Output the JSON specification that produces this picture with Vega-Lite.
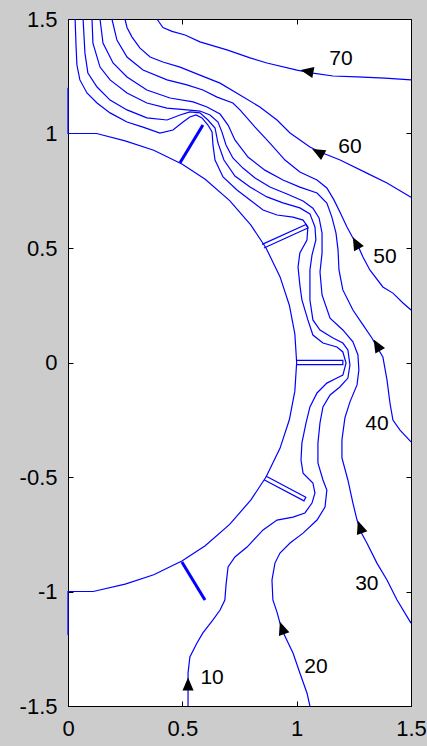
{
  "$schema": "https://vega.github.io/schema/vega-lite/v6.json",
  "width": 343,
  "height": 687,
  "autosize": {"type": "none"},
  "padding": {"left": 68, "top": 19, "right": 16, "bottom": 40},
  "background": "#cccccc",
  "config": {
    "view": {"fill": "white", "stroke": "black", "strokeWidth": 1},
    "axis": {
      "grid": false,
      "domain": false,
      "ticks": true,
      "tickColor": "black",
      "tickWidth": 1,
      "tickSize": 5,
      "offset": -5,
      "labelFont": "Liberation Sans",
      "labelFontSize": 22,
      "labelColor": "black",
      "labelFlush": false,
      "labelOverlap": false
    }
  },
  "datasets": {
    "lines": [
      {"k": "c70", "i": 0, "x": 0.389, "y": 1.5}, {"k": "c70", "i": 1, "x": 0.415, "y": 1.463}, {"k": "c70", "i": 2, "x": 0.455, "y": 1.446}, {"k": "c70", "i": 3, "x": 0.512, "y": 1.43}, {"k": "c70", "i": 4, "x": 0.577, "y": 1.4}, {"k": "c70", "i": 5, "x": 0.695, "y": 1.365}, {"k": "c70", "i": 6, "x": 0.796, "y": 1.33}, {"k": "c70", "i": 7, "x": 0.87, "y": 1.308}, {"k": "c70", "i": 8, "x": 1.001, "y": 1.277}, {"k": "c70", "i": 9, "x": 1.071, "y": 1.264}, {"k": "c70", "i": 10, "x": 1.159, "y": 1.251}, {"k": "c70", "i": 11, "x": 1.264, "y": 1.247}, {"k": "c70", "i": 12, "x": 1.386, "y": 1.242}, {"k": "c70", "i": 13, "x": 1.5, "y": 1.234},

      {"k": "c60", "i": 0, "x": 0.249, "y": 1.5}, {"k": "c60", "i": 1, "x": 0.258, "y": 1.463}, {"k": "c60", "i": 2, "x": 0.28, "y": 1.421}, {"k": "c60", "i": 3, "x": 0.315, "y": 1.373}, {"k": "c60", "i": 4, "x": 0.359, "y": 1.334}, {"k": "c60", "i": 5, "x": 0.415, "y": 1.312}, {"k": "c60", "i": 6, "x": 0.49, "y": 1.29}, {"k": "c60", "i": 7, "x": 0.577, "y": 1.255}, {"k": "c60", "i": 8, "x": 0.665, "y": 1.22}, {"k": "c60", "i": 9, "x": 0.752, "y": 1.168}, {"k": "c60", "i": 10, "x": 0.839, "y": 1.116}, {"k": "c60", "i": 11, "x": 0.914, "y": 1.059}, {"k": "c60", "i": 12, "x": 0.971, "y": 1.002}, {"k": "c60", "i": 13, "x": 1.058, "y": 0.941}, {"k": "c60", "i": 14, "x": 1.102, "y": 0.919}, {"k": "c60", "i": 15, "x": 1.19, "y": 0.884}, {"k": "c60", "i": 16, "x": 1.307, "y": 0.827}, {"k": "c60", "i": 17, "x": 1.395, "y": 0.784}, {"k": "c60", "i": 18, "x": 1.5, "y": 0.722},

      {"k": "c50", "i": 0, "x": 0.192, "y": 1.5}, {"k": "c50", "i": 1, "x": 0.214, "y": 1.408}, {"k": "c50", "i": 2, "x": 0.258, "y": 1.334}, {"k": "c50", "i": 3, "x": 0.328, "y": 1.277}, {"k": "c50", "i": 4, "x": 0.433, "y": 1.234}, {"k": "c50", "i": 5, "x": 0.52, "y": 1.212}, {"k": "c50", "i": 6, "x": 0.59, "y": 1.19}, {"k": "c50", "i": 7, "x": 0.652, "y": 1.159}, {"k": "c50", "i": 8, "x": 0.721, "y": 1.133}, {"k": "c50", "i": 9, "x": 0.752, "y": 1.103}, {"k": "c50", "i": 10, "x": 0.818, "y": 1.028}, {"k": "c50", "i": 11, "x": 0.883, "y": 0.958}, {"k": "c50", "i": 12, "x": 0.949, "y": 0.884}, {"k": "c50", "i": 13, "x": 1.014, "y": 0.832}, {"k": "c50", "i": 14, "x": 1.089, "y": 0.797}, {"k": "c50", "i": 15, "x": 1.132, "y": 0.762}, {"k": "c50", "i": 16, "x": 1.163, "y": 0.71}, {"k": "c50", "i": 17, "x": 1.189, "y": 0.657}, {"k": "c50", "i": 18, "x": 1.22, "y": 0.592}, {"k": "c50", "i": 19, "x": 1.246, "y": 0.544}, {"k": "c50", "i": 20, "x": 1.264, "y": 0.518}, {"k": "c50", "i": 21, "x": 1.29, "y": 0.461}, {"k": "c50", "i": 22, "x": 1.32, "y": 0.404}, {"k": "c50", "i": 23, "x": 1.377, "y": 0.33}, {"k": "c50", "i": 24, "x": 1.421, "y": 0.303}, {"k": "c50", "i": 25, "x": 1.465, "y": 0.26}, {"k": "c50", "i": 26, "x": 1.5, "y": 0.229},

      {"k": "c40", "i": 0, "x": 0.14, "y": 1.5}, {"k": "c40", "i": 1, "x": 0.153, "y": 1.395}, {"k": "c40", "i": 2, "x": 0.197, "y": 1.308}, {"k": "c40", "i": 3, "x": 0.258, "y": 1.247}, {"k": "c40", "i": 4, "x": 0.345, "y": 1.19}, {"k": "c40", "i": 5, "x": 0.446, "y": 1.155}, {"k": "c40", "i": 6, "x": 0.547, "y": 1.138}, {"k": "c40", "i": 7, "x": 0.608, "y": 1.116}, {"k": "c40", "i": 8, "x": 0.665, "y": 1.085}, {"k": "c40", "i": 9, "x": 0.7, "y": 1.037}, {"k": "c40", "i": 10, "x": 0.73, "y": 0.972}, {"k": "c40", "i": 11, "x": 0.787, "y": 0.897}, {"k": "c40", "i": 12, "x": 0.861, "y": 0.84}, {"k": "c40", "i": 13, "x": 0.94, "y": 0.797}, {"k": "c40", "i": 14, "x": 1.014, "y": 0.766}, {"k": "c40", "i": 15, "x": 1.089, "y": 0.74}, {"k": "c40", "i": 16, "x": 1.132, "y": 0.696}, {"k": "c40", "i": 17, "x": 1.154, "y": 0.635}, {"k": "c40", "i": 18, "x": 1.172, "y": 0.565}, {"k": "c40", "i": 19, "x": 1.181, "y": 0.491}, {"k": "c40", "i": 20, "x": 1.185, "y": 0.404}, {"k": "c40", "i": 21, "x": 1.202, "y": 0.317}, {"k": "c40", "i": 22, "x": 1.246, "y": 0.229}, {"k": "c40", "i": 23, "x": 1.29, "y": 0.164}, {"k": "c40", "i": 24, "x": 1.329, "y": 0.107}, {"k": "c40", "i": 25, "x": 1.351, "y": 0.068}, {"k": "c40", "i": 26, "x": 1.377, "y": 0.024}, {"k": "c40", "i": 27, "x": 1.395, "y": -0.076}, {"k": "c40", "i": 28, "x": 1.408, "y": -0.177}, {"k": "c40", "i": 29, "x": 1.421, "y": -0.251}, {"k": "c40", "i": 30, "x": 1.452, "y": -0.295}, {"k": "c40", "i": 31, "x": 1.5, "y": -0.347},

      {"k": "c30", "i": 0, "x": 0.105, "y": 1.5}, {"k": "c30", "i": 1, "x": 0.109, "y": 1.395}, {"k": "c30", "i": 2, "x": 0.14, "y": 1.29}, {"k": "c30", "i": 3, "x": 0.184, "y": 1.234}, {"k": "c30", "i": 4, "x": 0.258, "y": 1.177}, {"k": "c30", "i": 5, "x": 0.345, "y": 1.133}, {"k": "c30", "i": 6, "x": 0.433, "y": 1.111}, {"k": "c30", "i": 7, "x": 0.52, "y": 1.103}, {"k": "c30", "i": 8, "x": 0.577, "y": 1.098}, {"k": "c30", "i": 9, "x": 0.621, "y": 1.081}, {"k": "c30", "i": 10, "x": 0.656, "y": 1.05}, {"k": "c30", "i": 11, "x": 0.673, "y": 1.007}, {"k": "c30", "i": 12, "x": 0.691, "y": 0.95}, {"k": "c30", "i": 13, "x": 0.721, "y": 0.893}, {"k": "c30", "i": 14, "x": 0.765, "y": 0.849}, {"k": "c30", "i": 15, "x": 0.818, "y": 0.806}, {"k": "c30", "i": 16, "x": 0.883, "y": 0.766}, {"k": "c30", "i": 17, "x": 0.958, "y": 0.736}, {"k": "c30", "i": 18, "x": 1.028, "y": 0.705}, {"k": "c30", "i": 19, "x": 1.071, "y": 0.674}, {"k": "c30", "i": 20, "x": 1.098, "y": 0.631}, {"k": "c30", "i": 21, "x": 1.111, "y": 0.565}, {"k": "c30", "i": 22, "x": 1.111, "y": 0.478}, {"k": "c30", "i": 23, "x": 1.102, "y": 0.395}, {"k": "c30", "i": 24, "x": 1.111, "y": 0.295}, {"k": "c30", "i": 25, "x": 1.146, "y": 0.194}, {"k": "c30", "i": 26, "x": 1.202, "y": 0.142}, {"k": "c30", "i": 27, "x": 1.246, "y": 0.09}, {"k": "c30", "i": 28, "x": 1.268, "y": 0.033}, {"k": "c30", "i": 29, "x": 1.272, "y": -0.033}, {"k": "c30", "i": 30, "x": 1.264, "y": -0.098}, {"k": "c30", "i": 31, "x": 1.233, "y": -0.172}, {"k": "c30", "i": 32, "x": 1.211, "y": -0.242}, {"k": "c30", "i": 33, "x": 1.198, "y": -0.338}, {"k": "c30", "i": 34, "x": 1.198, "y": -0.417}, {"k": "c30", "i": 35, "x": 1.224, "y": -0.513}, {"k": "c30", "i": 36, "x": 1.246, "y": -0.614}, {"k": "c30", "i": 37, "x": 1.264, "y": -0.688}, {"k": "c30", "i": 38, "x": 1.281, "y": -0.74}, {"k": "c30", "i": 39, "x": 1.307, "y": -0.788}, {"k": "c30", "i": 40, "x": 1.351, "y": -0.876}, {"k": "c30", "i": 41, "x": 1.395, "y": -0.95}, {"k": "c30", "i": 42, "x": 1.439, "y": -1.037}, {"k": "c30", "i": 43, "x": 1.5, "y": -1.138},

      {"k": "c20", "i": 0, "x": 0.066, "y": 1.5}, {"k": "c20", "i": 1, "x": 0.074, "y": 1.352}, {"k": "c20", "i": 2, "x": 0.087, "y": 1.264}, {"k": "c20", "i": 3, "x": 0.127, "y": 1.203}, {"k": "c20", "i": 4, "x": 0.184, "y": 1.146}, {"k": "c20", "i": 5, "x": 0.258, "y": 1.103}, {"k": "c20", "i": 6, "x": 0.345, "y": 1.068}, {"k": "c20", "i": 7, "x": 0.433, "y": 1.059}, {"k": "c20", "i": 8, "x": 0.49, "y": 1.081}, {"k": "c20", "i": 9, "x": 0.533, "y": 1.094}, {"k": "c20", "i": 10, "x": 0.577, "y": 1.09}, {"k": "c20", "i": 11, "x": 0.612, "y": 1.059}, {"k": "c20", "i": 12, "x": 0.643, "y": 1.024}, {"k": "c20", "i": 13, "x": 0.656, "y": 0.958}, {"k": "c20", "i": 14, "x": 0.682, "y": 0.884}, {"k": "c20", "i": 15, "x": 0.73, "y": 0.814}, {"k": "c20", "i": 16, "x": 0.796, "y": 0.766}, {"k": "c20", "i": 17, "x": 0.87, "y": 0.723}, {"k": "c20", "i": 18, "x": 0.94, "y": 0.697}, {"k": "c20", "i": 19, "x": 1.014, "y": 0.675}, {"k": "c20", "i": 20, "x": 1.058, "y": 0.649}, {"k": "c20", "i": 21, "x": 1.08, "y": 0.592}, {"k": "c20", "i": 22, "x": 1.084, "y": 0.535}, {"k": "c20", "i": 23, "x": 1.067, "y": 0.469}, {"k": "c20", "i": 24, "x": 1.058, "y": 0.404}, {"k": "c20", "i": 25, "x": 1.058, "y": 0.338}, {"k": "c20", "i": 26, "x": 1.058, "y": 0.273}, {"k": "c20", "i": 27, "x": 1.071, "y": 0.186}, {"k": "c20", "i": 28, "x": 1.102, "y": 0.142}, {"k": "c20", "i": 29, "x": 1.159, "y": 0.107}, {"k": "c20", "i": 30, "x": 1.202, "y": 0.085}, {"k": "c20", "i": 31, "x": 1.224, "y": 0.055}, {"k": "c20", "i": 32, "x": 1.233, "y": -0.011}, {"k": "c20", "i": 33, "x": 1.224, "y": -0.068}, {"k": "c20", "i": 34, "x": 1.189, "y": -0.107}, {"k": "c20", "i": 35, "x": 1.146, "y": -0.142}, {"k": "c20", "i": 36, "x": 1.115, "y": -0.194}, {"k": "c20", "i": 37, "x": 1.102, "y": -0.264}, {"k": "c20", "i": 38, "x": 1.093, "y": -0.351}, {"k": "c20", "i": 39, "x": 1.093, "y": -0.439}, {"k": "c20", "i": 40, "x": 1.115, "y": -0.513}, {"k": "c20", "i": 41, "x": 1.132, "y": -0.557}, {"k": "c20", "i": 42, "x": 1.124, "y": -0.631}, {"k": "c20", "i": 43, "x": 1.089, "y": -0.688}, {"k": "c20", "i": 44, "x": 1.028, "y": -0.745}, {"k": "c20", "i": 45, "x": 0.971, "y": -0.788}, {"k": "c20", "i": 46, "x": 0.927, "y": -0.832}, {"k": "c20", "i": 47, "x": 0.905, "y": -0.876}, {"k": "c20", "i": 48, "x": 0.892, "y": -0.95}, {"k": "c20", "i": 49, "x": 0.896, "y": -1.037}, {"k": "c20", "i": 50, "x": 0.914, "y": -1.09}, {"k": "c20", "i": 51, "x": 0.927, "y": -1.138}, {"k": "c20", "i": 52, "x": 0.94, "y": -1.177}, {"k": "c20", "i": 53, "x": 0.984, "y": -1.269}, {"k": "c20", "i": 54, "x": 1.014, "y": -1.356}, {"k": "c20", "i": 55, "x": 1.045, "y": -1.443}, {"k": "c20", "i": 56, "x": 1.058, "y": -1.5},

      {"k": "c10", "i": 0, "x": 0.031, "y": 1.5}, {"k": "c10", "i": 1, "x": 0.035, "y": 1.387}, {"k": "c10", "i": 2, "x": 0.039, "y": 1.299}, {"k": "c10", "i": 3, "x": 0.052, "y": 1.234}, {"k": "c10", "i": 4, "x": 0.083, "y": 1.177}, {"k": "c10", "i": 5, "x": 0.127, "y": 1.133}, {"k": "c10", "i": 6, "x": 0.184, "y": 1.09}, {"k": "c10", "i": 7, "x": 0.258, "y": 1.05}, {"k": "c10", "i": 8, "x": 0.328, "y": 1.028}, {"k": "c10", "i": 9, "x": 0.402, "y": 1.002}, {"k": "c10", "i": 10, "x": 0.459, "y": 1.015}, {"k": "c10", "i": 11, "x": 0.503, "y": 1.05}, {"k": "c10", "i": 12, "x": 0.533, "y": 1.072}, {"k": "c10", "i": 13, "x": 0.56, "y": 1.081}, {"k": "c10", "i": 14, "x": 0.586, "y": 1.068}, {"k": "c10", "i": 15, "x": 0.612, "y": 1.037}, {"k": "c10", "i": 16, "x": 0.63, "y": 1.007}, {"k": "c10", "i": 17, "x": 0.634, "y": 0.95}, {"k": "c10", "i": 18, "x": 0.643, "y": 0.884}, {"k": "c10", "i": 19, "x": 0.678, "y": 0.81}, {"k": "c10", "i": 20, "x": 0.739, "y": 0.753}, {"k": "c10", "i": 21, "x": 0.796, "y": 0.71}, {"k": "c10", "i": 22, "x": 0.853, "y": 0.666}, {"k": "c10", "i": 23, "x": 0.914, "y": 0.644}, {"k": "c10", "i": 24, "x": 0.984, "y": 0.635}, {"k": "c10", "i": 25, "x": 1.028, "y": 0.622}, {"k": "c10", "i": 26, "x": 1.049, "y": 0.592}, {"k": "c10", "i": 27, "x": 1.045, "y": 0.535}, {"k": "c10", "i": 28, "x": 1.014, "y": 0.478}, {"k": "c10", "i": 29, "x": 1.006, "y": 0.417}, {"k": "c10", "i": 30, "x": 1.014, "y": 0.338}, {"k": "c10", "i": 31, "x": 1.023, "y": 0.273}, {"k": "c10", "i": 32, "x": 1.049, "y": 0.186}, {"k": "c10", "i": 33, "x": 1.071, "y": 0.12}, {"k": "c10", "i": 34, "x": 1.115, "y": 0.085}, {"k": "c10", "i": 35, "x": 1.176, "y": 0.068}, {"k": "c10", "i": 36, "x": 1.202, "y": 0.046}, {"k": "c10", "i": 37, "x": 1.216, "y": -0.002}, {"k": "c10", "i": 38, "x": 1.202, "y": -0.055}, {"k": "c10", "i": 39, "x": 1.176, "y": -0.068}, {"k": "c10", "i": 40, "x": 1.132, "y": -0.09}, {"k": "c10", "i": 41, "x": 1.089, "y": -0.133}, {"k": "c10", "i": 42, "x": 1.058, "y": -0.194}, {"k": "c10", "i": 43, "x": 1.041, "y": -0.264}, {"k": "c10", "i": 44, "x": 1.023, "y": -0.351}, {"k": "c10", "i": 45, "x": 1.019, "y": -0.426}, {"k": "c10", "i": 46, "x": 1.028, "y": -0.483}, {"k": "c10", "i": 47, "x": 1.071, "y": -0.526}, {"k": "c10", "i": 48, "x": 1.08, "y": -0.57}, {"k": "c10", "i": 49, "x": 1.067, "y": -0.614}, {"k": "c10", "i": 50, "x": 1.036, "y": -0.657}, {"k": "c10", "i": 51, "x": 0.984, "y": -0.675}, {"k": "c10", "i": 52, "x": 0.914, "y": -0.688}, {"k": "c10", "i": 53, "x": 0.853, "y": -0.731}, {"k": "c10", "i": 54, "x": 0.783, "y": -0.806}, {"k": "c10", "i": 55, "x": 0.73, "y": -0.849}, {"k": "c10", "i": 56, "x": 0.7, "y": -0.893}, {"k": "c10", "i": 57, "x": 0.691, "y": -0.972}, {"k": "c10", "i": 58, "x": 0.686, "y": -1.037}, {"k": "c10", "i": 59, "x": 0.665, "y": -1.081}, {"k": "c10", "i": 60, "x": 0.634, "y": -1.124}, {"k": "c10", "i": 61, "x": 0.59, "y": -1.181}, {"k": "c10", "i": 62, "x": 0.564, "y": -1.225}, {"k": "c10", "i": 63, "x": 0.533, "y": -1.286}, {"k": "c10", "i": 64, "x": 0.525, "y": -1.356}, {"k": "c10", "i": 65, "x": 0.525, "y": -1.5},

      {"k": "wall", "i": 0, "x": 0, "y": 1.2}, {"k": "wall", "i": 1, "x": 0, "y": 1.0}, {"k": "wall", "i": 2, "x": 0.125, "y": 1.0}, {"k": "wall", "i": 3, "x": 0.25, "y": 0.968}, {"k": "wall", "i": 4, "x": 0.375, "y": 0.927}, {"k": "wall", "i": 5, "x": 0.5, "y": 0.866}, {"k": "wall", "i": 6, "x": 0.6, "y": 0.8}, {"k": "wall", "i": 7, "x": 0.707, "y": 0.707}, {"k": "wall", "i": 8, "x": 0.8, "y": 0.6}, {"k": "wall", "i": 9, "x": 0.866, "y": 0.5}, {"k": "wall", "i": 10, "x": 0.927, "y": 0.375}, {"k": "wall", "i": 11, "x": 0.968, "y": 0.25}, {"k": "wall", "i": 12, "x": 0.992, "y": 0.125}, {"k": "wall", "i": 13, "x": 1.0, "y": 0.0}, {"k": "wall", "i": 14, "x": 0.992, "y": -0.125}, {"k": "wall", "i": 15, "x": 0.968, "y": -0.25}, {"k": "wall", "i": 16, "x": 0.927, "y": -0.375}, {"k": "wall", "i": 17, "x": 0.866, "y": -0.5}, {"k": "wall", "i": 18, "x": 0.8, "y": -0.6}, {"k": "wall", "i": 19, "x": 0.707, "y": -0.707}, {"k": "wall", "i": 20, "x": 0.6, "y": -0.8}, {"k": "wall", "i": 21, "x": 0.5, "y": -0.866}, {"k": "wall", "i": 22, "x": 0.375, "y": -0.927}, {"k": "wall", "i": 23, "x": 0.25, "y": -0.968}, {"k": "wall", "i": 24, "x": 0.11, "y": -1.0}, {"k": "wall", "i": 25, "x": 0, "y": -1.0}, {"k": "wall", "i": 26, "x": 0, "y": -1.19},

      {"k": "b0", "i": 0, "x": 1.0, "y": 0.009}, {"k": "b0", "i": 1, "x": 1.202, "y": 0.009}, {"k": "b0", "i": 2, "x": 1.202, "y": -0.009}, {"k": "b0", "i": 3, "x": 1.0, "y": -0.009},
      {"k": "b30", "i": 0, "x": 0.849, "y": 0.516}, {"k": "b30", "i": 1, "x": 1.041, "y": 0.603}, {"k": "b30", "i": 2, "x": 1.049, "y": 0.587}, {"k": "b30", "i": 3, "x": 0.857, "y": 0.5},
      {"k": "bm30", "i": 0, "x": 0.865, "y": -0.496}, {"k": "bm30", "i": 1, "x": 1.04, "y": -0.588}, {"k": "bm30", "i": 2, "x": 1.032, "y": -0.604}, {"k": "bm30", "i": 3, "x": 0.857, "y": -0.512}
    ],
    "thick": [
      {"k": "b60", "i": 0, "x": 0.49, "y": 0.872}, {"k": "b60", "i": 1, "x": 0.59, "y": 1.037},
      {"k": "bm60", "i": 0, "x": 0.498, "y": -0.871}, {"k": "bm60", "i": 1, "x": 0.599, "y": -1.037}
    ],
    "arrows": [
      {"level": 70, "x": 1.045, "y": 1.272, "a": -79},
      {"level": 60, "x": 1.093, "y": 0.919, "a": -62},
      {"level": 50, "x": 1.259, "y": 0.522, "a": -28},
      {"level": 40, "x": 1.351, "y": 0.076, "a": -30},
      {"level": 30, "x": 1.277, "y": -0.718, "a": -19},
      {"level": 20, "x": 0.936, "y": -1.159, "a": -19},
      {"level": 10, "x": 0.525, "y": -1.404, "a": 0}
    ],
    "labels": [
      {"t": "70", "x": 1.194, "y": 1.325},
      {"t": "60", "x": 1.233, "y": 0.941},
      {"t": "50", "x": 1.386, "y": 0.461},
      {"t": "40", "x": 1.351, "y": -0.269},
      {"t": "30", "x": 1.307, "y": -0.967},
      {"t": "20", "x": 1.084, "y": -1.33},
      {"t": "10", "x": 0.63, "y": -1.378}
    ]
  },
  "resolve": {"axis": {"x": "independent", "y": "independent"}},
  "layer": [
    {
      "data": {"name": "lines"},
      "mark": {"type": "line", "color": "#0000ff", "strokeWidth": 1.2},
      "encoding": {
        "x": {"field": "x", "type": "quantitative", "scale": {"domain": [0, 1.5], "nice": false, "zero": false},
              "axis": {"orient": "bottom", "values": [0, 0.5, 1, 1.5], "labelExpr": "'' + datum.value", "title": null, "labelPadding": 12}},
        "y": {"field": "y", "type": "quantitative", "scale": {"domain": [-1.5, 1.5], "nice": false, "zero": false},
              "axis": {"orient": "left", "values": [-1.5, -1, -0.5, 0, 0.5, 1, 1.5], "labelExpr": "'' + datum.value", "title": null, "labelPadding": 11}},
        "detail": {"field": "k"},
        "order": {"field": "i", "type": "quantitative"}
      }
    },
    {
      "data": {"name": "thick"},
      "mark": {"type": "line", "color": "#0000ff", "strokeWidth": 3},
      "encoding": {
        "x": {"field": "x", "type": "quantitative", "axis": null},
        "y": {"field": "y", "type": "quantitative", "axis": null},
        "detail": {"field": "k"},
        "order": {"field": "i", "type": "quantitative"}
      }
    },
    {
      "data": {"name": "arrows"},
      "mark": {"type": "point", "shape": "M0,-1L0.85,1L-0.85,1Z", "filled": true, "color": "black", "size": 170, "opacity": 1},
      "encoding": {
        "x": {"field": "x", "type": "quantitative", "axis": null},
        "y": {"field": "y", "type": "quantitative", "axis": null},
        "angle": {"field": "a", "type": "quantitative", "scale": null}
      }
    },
    {
      "data": {"name": "labels"},
      "mark": {"type": "text", "font": "Liberation Sans", "fontSize": 21, "color": "black", "align": "center", "baseline": "middle"},
      "encoding": {
        "x": {"field": "x", "type": "quantitative",
              "axis": {"orient": "top", "values": [0, 0.5, 1, 1.5], "labels": false, "title": null}},
        "y": {"field": "y", "type": "quantitative",
              "axis": {"orient": "right", "values": [-1.5, -1, -0.5, 0, 0.5, 1, 1.5], "labels": false, "title": null}},
        "text": {"field": "t"}
      }
    }
  ]
}
